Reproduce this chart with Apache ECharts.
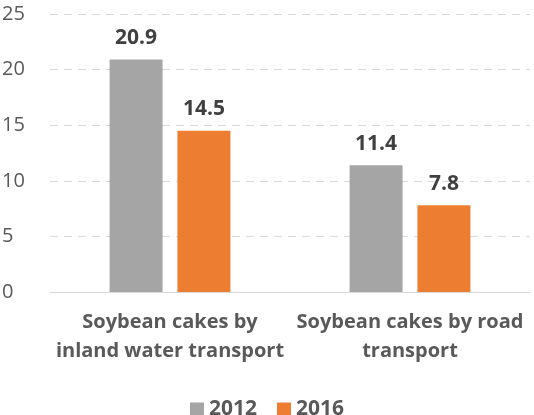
<!DOCTYPE html>
<html>
<head>
<meta charset="utf-8">
<script src="https://cdn.jsdelivr.net/npm/echarts@6/dist/echarts.min.js"></script>
<style>
  html, body { margin: 0; padding: 0; background: #fff; }
  #chart { width: 534px; height: 415px; }
</style>
</head>
<body>
<div id="chart"></div>
<script>
const categories = ["Soybean cakes by\ninland water transport", "Soybean cakes by road\ntransport"];
const values2012 = [20.9, 11.4];
const values2016 = [14.5, 7.8];
const seriesNames = ["2012", "2016"];

const chart = echarts.init(document.getElementById("chart"));
const font = "'Open Sans', sans-serif";
const label = {
  show: true,
  position: "top",
  distance: 11,
  fontFamily: font,
  fontSize: 21,
  fontWeight: "bold",
  color: "#404040",
};
chart.setOption({
  animation: false,
  grid: { left: 50, right: 4, top: 14, bottom: 123, containLabel: false, outerBoundsMode: "none" },
  legend: {
    top: 394,
    itemWidth: 14,
    itemHeight: 14,
    itemGap: 20,
    icon: "rect",
    textStyle: { fontFamily: font, fontSize: 21, fontWeight: "bold", color: "#595959" },
    data: seriesNames,
  },
  xAxis: {
    type: "category",
    data: categories,
    axisLine: { lineStyle: { color: "#d9d9d9", width: 1 } },
    axisTick: { show: false },
    axisLabel: {
      fontFamily: font,
      fontSize: 20,
      fontWeight: "bold",
      color: "#595959",
      lineHeight: 29,
      margin: 16,
      interval: 0,
    },
  },
  yAxis: {
    type: "value",
    min: 0,
    max: 25,
    interval: 5,
    axisLine: { show: false },
    axisTick: { show: false },
    splitLine: { lineStyle: { type: [8, 6], color: "#d9d9d9", width: 1 } },
    axisLabel: { fontFamily: font, fontSize: 20, color: "#595959", margin: 48, align: "left" },
  },
  series: [
    {
      name: seriesNames[0],
      type: "bar",
      data: values2012,
      barWidth: 53,
      barGap: "28%",
      itemStyle: { color: "#a5a5a5" },
      label: label,
    },
    {
      name: seriesNames[1],
      type: "bar",
      data: values2016,
      barWidth: 53,
      itemStyle: { color: "#ed7d31" },
      label: label,
    },
  ],
});
</script>
</body>
</html>
